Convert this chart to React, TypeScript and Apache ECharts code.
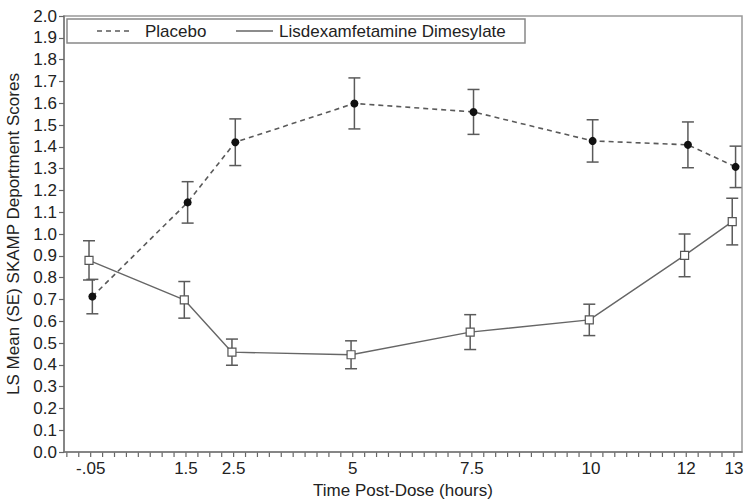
import React, { useEffect, useRef } from "react";
import * as echarts from "echarts";

// Time points (hours post-dose); first point is labelled "-.05" on the axis
const times = [-0.5, 1.5, 2.5, 5, 7.5, 10, 12, 13];
const xTickLabels = ["-.05", "1.5", "2.5", "5", "7.5", "10", "12", "13"];

// LS mean and SE
const placeboMean = [0.713, 1.145, 1.421, 1.599, 1.56, 1.427, 1.409, 1.308];
const placeboSE = [0.079, 0.095, 0.107, 0.117, 0.103, 0.097, 0.105, 0.095];
const lisdexMean = [0.879, 0.698, 0.458, 0.446, 0.55, 0.606, 0.902, 1.057];
const lisdexSE = [0.09, 0.084, 0.06, 0.064, 0.08, 0.072, 0.098, 0.107];

const seriesNames = ["Placebo", "Lisdexamfetamine Dimesylate"];
const dodge = 0.035; // small horizontal offset between groups

const FONT = "'Liberation Sans', Arial, Helvetica, sans-serif";
const TEXT = "#222";
const GREY = "#5a5a5a";

const X_MIN = -1.06;
const X_MAX = 13.17;
const TICK_STEP = 0.25; // x-axis tick marks every quarter hour
const TICK_FIRST = -1;
const TICK_LAST = 13;

export default function App() {
  const ref = useRef<HTMLDivElement>(null);

  useEffect(() => {
    if (!ref.current) return;
    const chart = echarts.init(ref.current, undefined, { renderer: "svg" });

    const placeboX = times.map((t) => t + dodge);
    const lisdexX = times.map((t) => t - dodge);

    const placeboPts = placeboX.map((x, i) => [x, placeboMean[i]]);
    const lisdexPts = lisdexX.map((x, i) => [x, lisdexMean[i]]);
    const placeboErr = placeboX.map((x, i) => [x, placeboMean[i] - placeboSE[i], placeboMean[i] + placeboSE[i]]);
    const lisdexErr = lisdexX.map((x, i) => [x, lisdexMean[i] - lisdexSE[i], lisdexMean[i] + lisdexSE[i]]);

    const tickValues: number[] = [];
    const nTicks = Math.round((TICK_LAST - TICK_FIRST) / TICK_STEP);
    for (let i = 0; i <= nTicks; i++) tickValues.push(TICK_FIRST + i * TICK_STEP);

    const errRender = (params: any, api: any) => {
      const x = api.value(0);
      const lo = api.value(1);
      const hi = api.value(2);
      const top = api.coord([x, hi]);
      const bot = api.coord([x, lo]);
      const hw = 6;
      const style = { stroke: GREY, lineWidth: 1.5 };
      return {
        type: "group",
        children: [
          { type: "line", shape: { x1: top[0], y1: top[1], x2: bot[0], y2: bot[1] }, style },
          { type: "line", shape: { x1: top[0] - hw, y1: top[1], x2: top[0] + hw, y2: top[1] }, style },
          { type: "line", shape: { x1: bot[0] - hw, y1: bot[1], x2: bot[0] + hw, y2: bot[1] }, style },
        ],
      };
    };

    const legendGraphic: any[] = [
      {
        id: "lg-box",
        type: "rect",
        shape: { x: 67, y: 19, width: 458, height: 24 },
        style: { fill: "#fff", stroke: "#888", lineWidth: 1.5 },
        z: 10,
      },
      {
        id: "lg-l1",
        type: "line",
        shape: { x1: 97, y1: 31, x2: 132, y2: 31 },
        style: { stroke: GREY, lineWidth: 1.5, lineDash: [5, 4] },
        z: 11,
      },
      {
        id: "lg-t1",
        type: "text",
        x: 145,
        y: 31,
        style: { text: seriesNames[0], fill: TEXT, font: `17px ${FONT}`, verticalAlign: "middle", align: "left" },
        z: 11,
      },
      {
        id: "lg-l2",
        type: "line",
        shape: { x1: 236, y1: 31, x2: 273, y2: 31 },
        style: { stroke: "#666", lineWidth: 1.5 },
        z: 11,
      },
      {
        id: "lg-t2",
        type: "text",
        x: 279,
        y: 31,
        style: { text: seriesNames[1], fill: TEXT, font: `17px ${FONT}`, verticalAlign: "middle", align: "left" },
        z: 11,
      },
    ];

    const option: any = {
      animation: false,
      backgroundColor: "#fff",
      textStyle: { fontFamily: FONT },
      grid: {
        left: 64,
        right: 5,
        top: 16,
        bottom: 47,
        containLabel: false,
        outerBoundsMode: "none",
        show: true,
        borderColor: "#999",
        borderWidth: 1.5,
        backgroundColor: "transparent",
      },
      xAxis: {
        type: "value",
        min: X_MIN,
        max: X_MAX,
        name: "Time Post-Dose (hours)",
        nameLocation: "middle",
        nameGap: 30,
        nameTextStyle: { fontSize: 17, color: TEXT, fontFamily: FONT },
        axisLine: { show: true, onZero: false, lineStyle: { color: "#777", width: 1.5 } },
        axisTick: { show: false },
        axisLabel: {
          customValues: times,
          fontSize: 17,
          color: TEXT,
          fontFamily: FONT,
          margin: 8,
          formatter: (v: number) => {
            const idx = times.findIndex((t) => Math.abs(t - v) < 1e-6);
            return idx >= 0 ? xTickLabels[idx] : "";
          },
        },
        splitLine: { show: false },
      },
      yAxis: {
        type: "value",
        min: 0,
        max: 2,
        interval: 0.1,
        name: "LS Mean (SE) SKAMP Deportment Scores",
        nameLocation: "middle",
        nameGap: 41,
        nameTextStyle: { fontSize: 17, color: TEXT, fontFamily: FONT },
        axisLine: { show: true, onZero: false, lineStyle: { color: "#777", width: 1.5 } },
        axisTick: { show: true, length: 5, lineStyle: { color: "#666", width: 1.2 } },
        axisLabel: {
          fontSize: 17,
          color: TEXT,
          fontFamily: FONT,
          margin: 7,
          formatter: (v: number) => v.toFixed(1),
        },
        splitLine: { show: false },
      },
      series: [
        {
          name: seriesNames[0] + " SE",
          type: "custom",
          renderItem: errRender,
          data: placeboErr,
          encode: { x: 0, y: [1, 2] },
          z: 2,
        },
        {
          name: seriesNames[1] + " SE",
          type: "custom",
          renderItem: errRender,
          data: lisdexErr,
          encode: { x: 0, y: [1, 2] },
          z: 2,
        },
        {
          name: seriesNames[0],
          type: "line",
          data: placeboPts,
          symbol: "circle",
          symbolSize: 8,
          itemStyle: { color: "#111", borderColor: "#111", borderWidth: 0 },
          lineStyle: { color: GREY, width: 1.6, type: [5, 4] },
          z: 3,
        },
        {
          name: seriesNames[1],
          type: "line",
          data: lisdexPts,
          symbol: "rect",
          symbolSize: 8,
          itemStyle: { color: "#fff", borderColor: "#555", borderWidth: 1.2 },
          lineStyle: { color: "#666", width: 1.4, type: "solid" },
          z: 3,
        },
      ],
      graphic: legendGraphic,
    };

    chart.setOption(option);

    // quarter-hour tick marks under the x axis, placed through the axis scale
    try {
      const tickGraphic: any[] = [];
      tickValues.forEach((v, i) => {
        const p = chart.convertToPixel({ xAxisIndex: 0, yAxisIndex: 0 }, [v, 0]) as any;
        if (p && isFinite(p[0]) && isFinite(p[1])) {
          tickGraphic.push({
            id: "xt-" + i,
            type: "line",
            shape: { x1: p[0], y1: p[1] + 0.5, x2: p[0], y2: p[1] + 5 },
            style: { stroke: "#666", lineWidth: 1.2 },
            silent: true,
            z: 12,
          });
        }
      });
      if (tickGraphic.length) chart.setOption({ graphic: legendGraphic.concat(tickGraphic) });
    } catch (e) {
      // leave chart without the minor ticks if conversion fails
    }

    return () => chart.dispose();
  }, []);

  return (
    <div
      ref={ref}
      style={{ position: "absolute", left: 0, top: 0, width: 747, height: 499, background: "#fff" }}
    />
  );
}
